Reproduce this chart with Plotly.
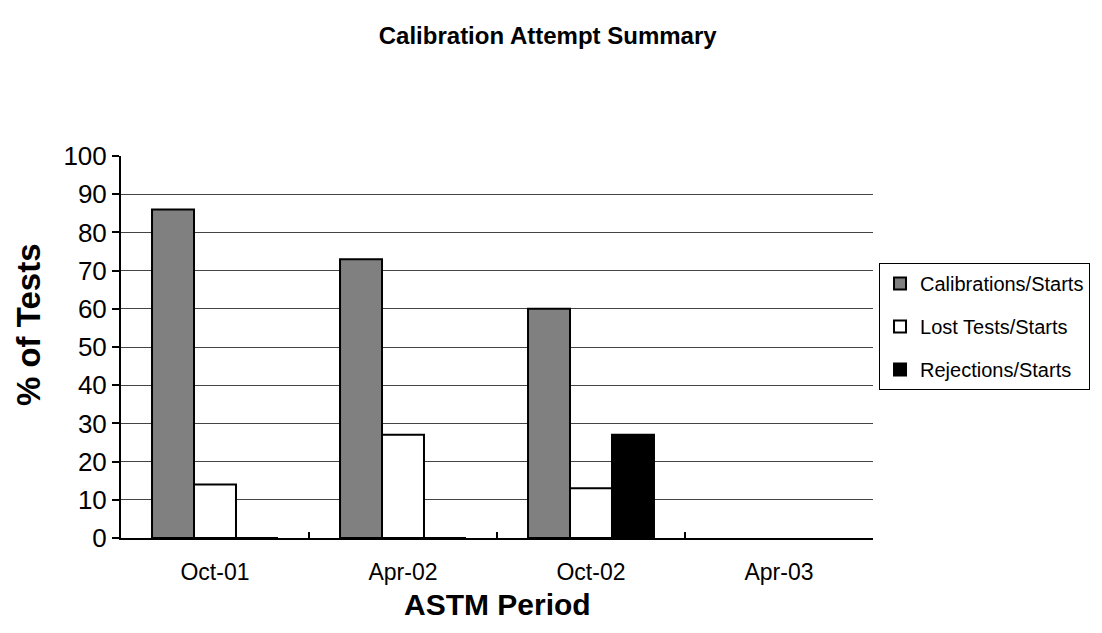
import plotly.graph_objects as go

periods = ["Oct-01", "Apr-02", "Oct-02", "Apr-03"]
calibrations = [86, 73, 60, None]
lost_tests = [14, 27, 13, None]
rejections = [0, 0, 27, None]

series = [
    ("Calibrations/Starts", calibrations, "#808080"),
    ("Lost Tests/Starts", lost_tests, "#FFFFFF"),
    ("Rejections/Starts", rejections, "#000000"),
]

fig = go.Figure()
for i, (name, vals, color) in enumerate(series):
    fig.add_trace(go.Bar(
        x=periods, y=vals, name=name, legendgroup=f"g{i}",
        marker=dict(color=color, line=dict(color="black", width=2)),
    ))

fig.update_layout(
    width=1102, height=633,
    paper_bgcolor="white", plot_bgcolor="white",
    font=dict(family="Liberation Sans, Arial, sans-serif", color="black"),
    margin=dict(l=121, r=227, t=156, b=95),
    barmode="group", bargap=0.33, bargroupgap=0,
    title=dict(text="<b>Calibration Attempt Summary</b>", x=0.497, xref="container",
               y=0.943, yref="container", xanchor="center", yanchor="middle",
               font=dict(size=24)),
    legend=dict(x=1.008, y=0.72, xanchor="left", yanchor="top",
                bordercolor="black", borderwidth=1, bgcolor="white",
                font=dict(size=20), traceorder="grouped", tracegroupgap=14,
                itemwidth=30),
    xaxis=dict(
        type="category", showline=True, linecolor="black", linewidth=2,
        ticks="inside", ticklen=6, tickcolor="black", tickwidth=2,
        tickson="boundaries", showgrid=False,
        tickfont=dict(size=23), ticklabelstandoff=12,
    ),
    yaxis=dict(
        range=[0, 100], dtick=10, showline=True, linecolor="black", linewidth=2,
        ticks="outside", ticklen=7, tickcolor="black", tickwidth=2,
        showgrid=True, gridcolor="#444444", gridwidth=1,
        zeroline=False, tickfont=dict(size=26),
    ),
    annotations=[
        dict(text="<b>% of Tests</b>", textangle=-90, showarrow=False,
             xref="paper", yref="paper", x=-0.122, y=0.558,
             xanchor="center", yanchor="middle", font=dict(size=33)),
        dict(text="<b>ASTM Period</b>", showarrow=False,
             xref="paper", yref="paper", x=0.5, y=-0.173,
             xanchor="center", yanchor="middle", font=dict(size=30)),
    ],
)

fig.write_html("out.html")
